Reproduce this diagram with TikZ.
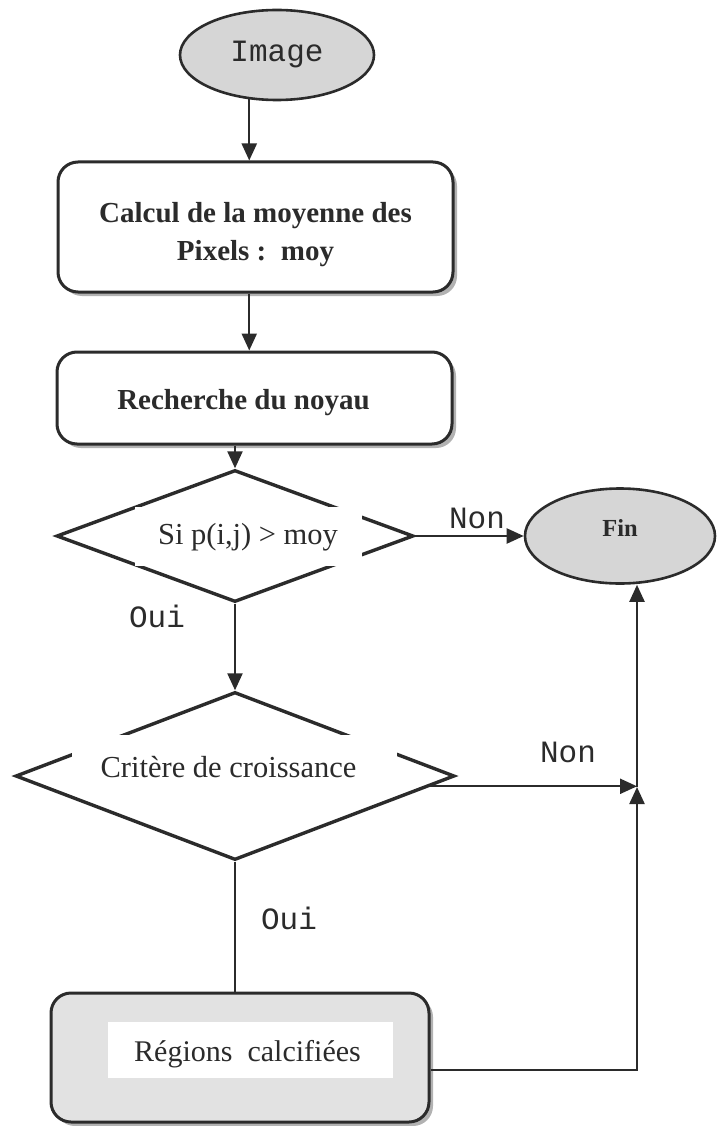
\documentclass[tikz,border=0pt]{standalone}
\usepackage{fontspec}
\setmainfont{Liberation Serif}
\newfontfamily\monof{Liberation Mono}
\usetikzlibrary{shapes.geometric,arrows.meta,shadows,calc}
\definecolor{ink}{HTML}{2B2B2B}
\definecolor{stipple}{HTML}{D6D6D6}
\definecolor{paleStipple}{HTML}{E2E2E2}
% lower (or raise) text without changing its declared size
\newcommand{\nudge}[2]{\raisebox{#1}[\height][\depth]{#2}}

\begin{document}
\begin{tikzpicture}[x=1pt,y=-1pt,
  every node/.append style={text=ink},
  line/.style={draw=ink, line width=2.2pt},
  arr/.style={line, -{Triangle[length=17pt,width=15pt]}},
  term/.style={ellipse, draw=ink, line width=2.6pt, fill=stipple, inner sep=0pt},
  procbox/.style={rectangle, rounded corners=20pt, draw=ink, line width=3pt,
    fill=white, inner sep=0pt,
    drop shadow={shadow xshift=4pt, shadow yshift=-4pt, fill=gray!60, opacity=1}},
  decision/.style={diamond, draw=ink, line width=3.4pt, fill=white, inner sep=0pt},
  gap/.style={fill=white, inner sep=0pt},
  lbl/.style={font=\monof\fontsize{31}{31}\selectfont, inner sep=0pt},
]
\fill[white] (0,0) rectangle (721,1126);
\useasboundingbox (0,0) rectangle (721,1126);

% start and end terminals
\node[term, minimum width=194pt, minimum height=90pt,
      font=\monof\fontsize{31}{31}\selectfont] (img) at (277,55) {Image};
\node[term, minimum width=190pt, minimum height=95pt,
      font=\bfseries\fontsize{24.5}{24.5}\selectfont] (fin) at (620,536) {\nudge{8pt}{Fin}};

% processing steps
\node[procbox, minimum width=395pt, minimum height=130pt,
      font=\bfseries\fontsize{29}{38}\selectfont] (box1) at (255.5,227)
      {\nudge{-7pt}{\begin{tabular}{@{}c@{}}Calcul de la moyenne des\\ Pixels :\ \ moy\end{tabular}}};
\node[procbox, minimum width=395pt, minimum height=92pt,
      font=\bfseries\fontsize{29}{29}\selectfont] (box2) at (254.5,398)
      {\nudge{-5pt}{Recherche du noyau}\hspace*{22pt}};

% decisions (text sits on a white patch over the outline)
\node[decision, minimum width=357pt, minimum height=132pt] (d1) at (235,536) {};
\node[gap, minimum width=227pt, minimum height=59pt,
      font=\fontsize{30.5}{30.5}\selectfont] (d1txt) at (248,536) {\nudge{-1pt}{Si p(i,j) > moy}};
\node[decision, minimum width=439pt, minimum height=168pt] (d2) at (235,776) {};
\node[gap, minimum width=325pt, minimum height=57pt,
      font=\fontsize{30.5}{30.5}\selectfont] (d2txt) at (234.5,763.5) {\nudge{-4pt}{Critère de croissance}\hspace*{12pt}};

% result box
\node[procbox, fill=paleStipple, minimum width=378pt, minimum height=129pt] (reg) at (240,1057.5) {};
\node[gap, minimum width=285pt, minimum height=56pt,
      font=\fontsize{30}{30}\selectfont] (regtxt) at (250.5,1050) {\nudge{-4pt}{Régions\ \ calcifiées}\hspace*{6pt}};

% connectors
\coordinate (j) at (637,787);
\coordinate (k) at (637,1070);
\coordinate (d2out) at ($(d2.east)!0.12!(d2.south)$);

\draw[arr] (img.238) -- (img.238 |- box1.north);
\draw[arr] (box1.south -| img.238) -- (box2.north -| img.238);
\draw[arr] (box2.south -| d1.north) -- (d1.north);
\draw[arr] (d1.east) -- (fin.west);
\draw[arr] (d1.south) -- (d2.north);
\draw[arr] (d2out) -- (d2out -| j);
\draw[line] (d2.south) -- (d2.south |- reg.north);
\draw[arr] (reg.east |- k) -- (k) -- (j);
\draw[arr] (j) -- (fin.south -| j);

% branch labels
\node[lbl] (non1) at (477,518) {Non};
\node[lbl] (oui1) at (157,616) {Oui};
\node[lbl] (non2) at (568,752) {Non};
\node[lbl] (oui2) at (289,918) {Oui};
\end{tikzpicture}
\end{document}
